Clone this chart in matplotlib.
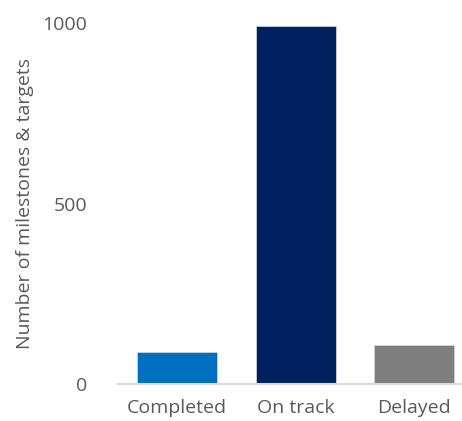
import matplotlib
matplotlib.use("Agg")
import matplotlib.pyplot as plt

categories = ["Completed", "On track", "Delayed"]
values = [89, 992, 107]
colors = ["#0070C0", "#002060", "#7F7F7F"]

plt.rcParams['font.family'] = ['Open Sans', 'DejaVu Sans']

fig = plt.figure(figsize=(4.62, 4.21), dpi=100)
ax = fig.add_axes([118/462, 1 - 384/421, (462 - 118)/462, (384 - 23)/421])

ax.bar(range(len(categories)), values, width=0.675, color=colors,
       edgecolor="#d0d0d0", linewidth=0.6)

ax.set_xlim(-0.5, 2.405)
ax.set_ylim(0, 1000)
ax.set_yticks([0, 500, 1000])
ax.set_xticks(range(len(categories)))
ax.set_xticklabels(categories)

for s in ["top", "right", "left"]:
    ax.spines[s].set_visible(False)
ax.spines["bottom"].set_color("#d9d9d9")
ax.spines["bottom"].set_linewidth(1.5)

ax.tick_params(axis="y", length=0, colors="#595959", labelsize=14, pad=22)
ax.tick_params(axis="x", length=0, colors="#595959", labelsize=14, pad=11)
ax.set_ylabel("Number of milestones & targets", color="#595959", fontsize=14, labelpad=6)

fig.savefig("out.png", dpi=100)
